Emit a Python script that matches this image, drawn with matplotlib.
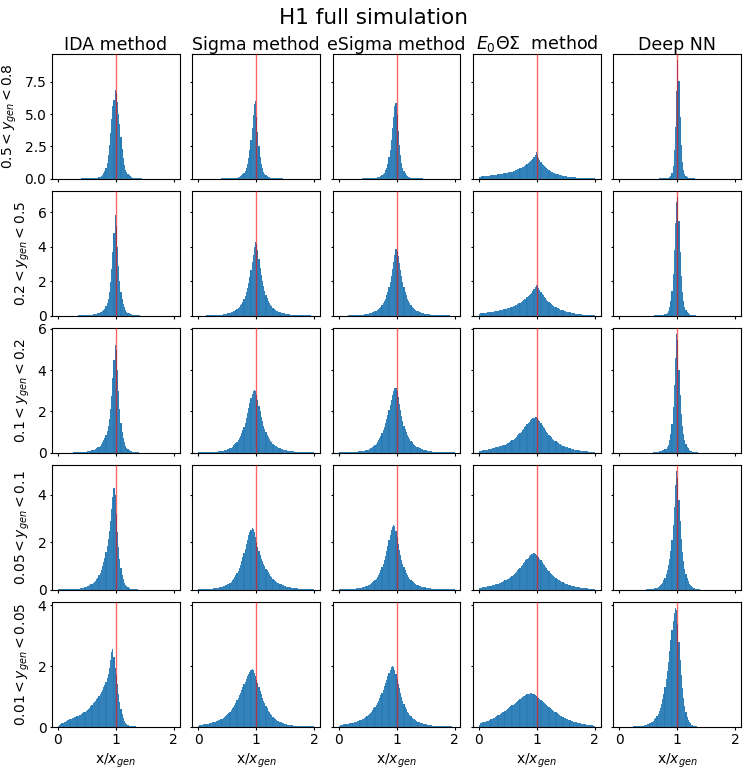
import matplotlib
matplotlib.use("Agg")
import matplotlib.pyplot as plt
import numpy as np

# ---------------- categories / labels ----------------
methods = ["IDA method", "Sigma method", "eSigma method",
           r"$E_0\Theta\Sigma$  method", "Deep NN"]
y_ranges = [r"$0.5 < y_{gen} < 0.8$", r"$0.2 < y_{gen} < 0.5$",
            r"$0.1 < y_{gen} < 0.2$", r"$0.05 < y_{gen} < 0.1$",
            r"$0.01 < y_{gen} < 0.05$"]
x_ticks = [0, 1, 2]
y_ticks = [[0, 2.5, 5, 7.5], [0, 2, 4, 6], [0, 2, 4, 6], [0, 2, 4], [0, 2, 4]]
bin_edges = np.linspace(0.0, 2.0, 101)   # 100 bins of width 0.02

# ---------------- histogram densities (per bin, 0 -> 2) ----------------
# row 1 : 0.5 < y < 0.8
ida_r1 = [0, 0, 0, 0, 0, 0, 0, 0, 0, 0,
          0, 0, 0, 0, 0, 0, 0, 0, 0, 0,
          .01, .01, .01, .01, .01, .01, .01, .01, .02, .02,
          .02, .03, .04, .05, .07, .1, .14, .2, .3, .42,
          .6, .8, 1.2, 1.8, 2.6, 3.5, 4.6, 5.6, 6.1, 6.9,
          6.6, 5.9, 5.0, 4.2, 3.2, 2.3, 1.6, 1.05, .7, .5,
          .35, .25, .17, .12, .08, .05, .04, .03, .02, .01,
          .01, .01, .01, 0, 0, 0, 0, 0, 0, 0,
          0, 0, 0, 0, 0, 0, 0, 0, 0, 0,
          0, 0, 0, 0, 0, 0, 0, 0, 0, 0]
sigma_r1 = [0, 0, 0, 0, 0, 0, 0, 0, 0, 0,
            0, 0, 0, 0, 0, 0, 0, 0, 0, 0,
            .01, .01, .01, .01, .01, .02, .02, .02, .03, .03,
            .04, .05, .06, .08, .11, .14, .19, .25, .33, .45,
            .6, .8, 1.1, 1.6, 2.2, 3.0, 3.9, 4.9, 5.8, 6.0,
            4.8, 3.6, 2.5, 1.7, 1.15, .8, .55, .38, .27, .19,
            .14, .1, .07, .05, .04, .03, .02, .02, .01, .01,
            .01, .01, .01, 0, 0, 0, 0, 0, 0, 0,
            0, 0, 0, 0, 0, 0, 0, 0, 0, 0,
            0, 0, 0, 0, 0, 0, 0, 0, 0, 0]
esigma_r1 = [0, 0, 0, 0, 0, 0, 0, 0, 0, 0,
             0, 0, 0, 0, 0, 0, 0, 0, 0, 0,
             .01, .01, .01, .01, .01, .02, .02, .03, .03, .03,
             .04, .05, .07, .09, .12, .15, .2, .27, .35, .47,
             .63, .85, 1.15, 1.65, 2.25, 3.0, 3.9, 4.8, 5.6, 5.85,
             4.9, 3.7, 2.6, 1.8, 1.2, .85, .6, .42, .3, .21,
             .15, .11, .08, .06, .04, .03, .02, .02, .01, .01,
             .01, .01, .01, 0, 0, 0, 0, 0, 0, 0,
             0, 0, 0, 0, 0, 0, 0, 0, 0, 0,
             0, 0, 0, 0, 0, 0, 0, 0, 0, 0]
e0_r1 = [.15, .16, .17, .18, .19, .2, .21, .22, .23, .24,
         .25, .26, .28, .29, .3, .31, .33, .34, .35, .37,
         .38, .4, .42, .44, .46, .48, .5, .52, .55, .58,
         .61, .64, .67, .71, .75, .79, .83, .88, .93, .99,
         1.05, 1.12, 1.19, 1.27, 1.36, 1.45, 1.55, 1.67, 1.82, 2.05,
         1.85, 1.62, 1.44, 1.29, 1.16, 1.05, .95, .87, .79, .72,
         .66, .6, .55, .5, .46, .42, .38, .35, .32, .3,
         .27, .25, .23, .21, .19, .18, .16, .15, .14, .13,
         .12, .11, .1, .09, .08, .08, .07, .06, .06, .05,
         .05, .05, .04, .04, .04, .03, .03, .03, .03, .02]
dnn_r1 = [0, 0, 0, 0, 0, 0, 0, 0, 0, 0,
          0, 0, 0, 0, 0, 0, 0, 0, 0, 0,
          0, 0, 0, 0, 0, 0, 0, 0, 0, 0,
          0, 0, 0, 0, .01, .01, .01, .01, .02, .02,
          .03, .04, .07, .12, .22, .45, 1.0, 2.2, 4.0, 6.8,
          9.2, 7.6, 4.8, 2.6, 1.3, .65, .33, .18, .1, .06,
          .04, .03, .02, .01, .01, 0, 0, 0, 0, 0,
          0, 0, 0, 0, 0, 0, 0, 0, 0, 0,
          0, 0, 0, 0, 0, 0, 0, 0, 0, 0,
          0, 0, 0, 0, 0, 0, 0, 0, 0, 0]

# row 2 : 0.2 < y < 0.5
ida_r2 = [0, 0, 0, 0, 0, .01, .01, .01, .01, .01,
          .01, .01, .01, .01, .01, .01, .01, .02, .02, .02,
          .02, .02, .02, .03, .03, .03, .04, .04, .05, .06,
          .08, .09, .1, .12, .14, .16, .19, .23, .27, .33,
          .4, .55, .75, 1.0, 1.4, 1.95, 2.7, 3.7, 4.8, 5.87,
          5.2, 4.0, 2.9, 2.0, 1.4, 1.0, .7, .48, .33, .24,
          .17, .13, .1, .08, .06, .05, .04, .03, .03, .02,
          .02, .01, .01, .01, .01, .01, 0, 0, 0, 0,
          0, 0, 0, 0, 0, 0, 0, 0, 0, 0,
          0, 0, 0, 0, 0, 0, 0, 0, 0, 0]
sigma_r2 = [.01, .01, .01, .01, .01, .01, .01, .02, .02, .02,
            .02, .02, .03, .03, .03, .04, .04, .05, .05, .06,
            .07, .08, .09, .1, .12, .13, .15, .17, .2, .23,
            .26, .3, .34, .39, .45, .52, .6, .7, .82, .97,
            1.15, 1.37, 1.62, 1.92, 2.25, 2.65, 3.1, 3.55, 4.0, 4.3,
            4.15, 3.8, 3.3, 2.8, 2.35, 2.0, 1.7, 1.45, 1.22, 1.04,
            .88, .75, .64, .55, .47, .4, .35, .3, .26, .23,
            .2, .18, .16, .14, .13, .11, .1, .09, .08, .07,
            .07, .06, .05, .05, .04, .04, .04, .03, .03, .03,
            .03, .02, .02, .02, .02, .02, .02, .01, .01, .01]
esigma_r2 = [.01, .01, .01, .01, .01, .01, .01, .01, .02, .02,
             .02, .02, .02, .03, .03, .03, .04, .04, .05, .05,
             .06, .07, .08, .09, .1, .12, .13, .15, .17, .2,
             .23, .26, .3, .35, .4, .46, .53, .62, .73, .86,
             1.0, 1.18, 1.4, 1.65, 1.95, 2.3, 2.7, 3.1, 3.55, 3.9,
             3.75, 3.45, 3.05, 2.65, 2.3, 1.95, 1.65, 1.4, 1.18, 1.0,
             .85, .72, .62, .53, .46, .4, .34, .3, .26, .23,
             .2, .18, .16, .14, .12, .11, .1, .09, .08, .07,
             .06, .05, .05, .04, .04, .04, .03, .03, .03, .03,
             .02, .02, .02, .02, .02, .02, .01, .01, .01, .01]
e0_r2 = [.12, .13, .14, .15, .16, .17, .18, .19, .2, .21,
         .22, .23, .24, .25, .27, .28, .29, .31, .32, .34,
         .35, .37, .39, .41, .43, .45, .47, .5, .52, .55,
         .58, .61, .64, .68, .72, .76, .8, .85, .9, .95,
         1.0, 1.06, 1.12, 1.19, 1.26, 1.34, 1.43, 1.53, 1.65, 1.8,
         1.72, 1.6, 1.48, 1.38, 1.28, 1.19, 1.1, 1.02, .94, .87,
         .8, .74, .68, .62, .57, .53, .49, .45, .42, .39,
         .36, .33, .31, .28, .26, .24, .22, .2, .19, .17,
         .16, .15, .13, .12, .11, .1, .09, .09, .08, .07,
         .07, .06, .06, .05, .05, .04, .04, .04, .03, .03]
dnn_r2 = [0, 0, 0, 0, 0, 0, 0, 0, 0, 0,
          0, 0, 0, 0, 0, 0, 0, 0, 0, 0,
          0, 0, 0, 0, 0, .01, .01, .01, .01, .01,
          .02, .02, .03, .03, .04, .04, .05, .06, .07, .08,
          .1, .15, .28, .5, .85, 1.45, 2.4, 3.8, 5.4, 6.6,
          6.9, 5.5, 3.7, 2.3, 1.4, .85, .52, .32, .2, .13,
          .09, .06, .04, .03, .02, .02, .01, .01, .01, 0,
          0, 0, 0, 0, 0, 0, 0, 0, 0, 0,
          0, 0, 0, 0, 0, 0, 0, 0, 0, 0,
          0, 0, 0, 0, 0, 0, 0, 0, 0, 0]

# row 3 : 0.1 < y < 0.2
ida_r3 = [.01, .01, .01, .01, .01, .01, .01, .01, .01, .01,
          .01, .01, .01, .02, .02, .02, .02, .02, .03, .03,
          .03, .04, .04, .05, .06, .07, .08, .09, .1, .12,
          .14, .16, .19, .22, .26, .3, .35, .42, .5, .6,
          .7, .85, 1.05, 1.3, 1.65, 2.1, 2.75, 3.6, 4.5, 5.2,
          4.95, 4.0, 3.0, 2.1, 1.45, 1.0, .7, .5, .35, .25,
          .18, .13, .1, .07, .05, .04, .03, .03, .02, .02,
          .01, .01, .01, .01, .01, .01, 0, 0, 0, 0,
          0, 0, 0, 0, 0, 0, 0, 0, 0, 0,
          0, 0, 0, 0, 0, 0, 0, 0, 0, 0]
sigma_r3 = [.02, .02, .02, .02, .02, .03, .03, .03, .03, .03,
            .04, .04, .04, .05, .05, .06, .06, .07, .08, .09,
            .1, .11, .12, .14, .15, .17, .19, .22, .25, .28,
            .36, .41, .47, .54, .62, .72, .83, .96, 1.1, 1.27,
            1.45, 1.68, 1.93, 2.18, 2.43, 2.65, 2.85, 2.99, 3.05, 2.98,
            2.8, 2.55, 2.28, 2.0, 1.75, 1.52, 1.32, 1.14, .99, .86,
            .75, .66, .58, .51, .45, .4, .35, .31, .28, .25,
            .22, .2, .18, .16, .15, .13, .12, .11, .1, .09,
            .08, .07, .07, .06, .06, .05, .05, .04, .04, .04,
            .03, .03, .03, .03, .03, .02, .02, .02, .02, .02]
esigma_r3 = [.02, .02, .02, .02, .02, .02, .03, .03, .03, .03,
             .03, .04, .04, .04, .05, .05, .06, .07, .07, .08,
             .09, .1, .11, .13, .14, .16, .18, .21, .25, .29,
             .34, .39, .45, .52, .6, .7, .81, .94, 1.08, 1.24,
             1.42, 1.62, 1.84, 2.07, 2.32, 2.56, 2.8, 2.98, 3.12, 3.15,
             2.98, 2.7, 2.38, 2.06, 1.78, 1.53, 1.32, 1.14, .99, .86,
             .75, .65, .57, .5, .44, .39, .34, .3, .27, .24,
             .21, .19, .17, .15, .14, .12, .11, .1, .09, .08,
             .07, .06, .06, .05, .05, .04, .04, .04, .03, .03,
             .03, .03, .03, .02, .02, .02, .02, .02, .02, .02]
e0_r3 = [.09, .1, .11, .12, .13, .14, .15, .16, .17, .18,
         .2, .21, .23, .24, .26, .28, .29, .31, .33, .35,
         .36, .38, .4, .43, .46, .49, .52, .56, .6, .64,
         .68, .73, .78, .84, .9, .96, 1.03, 1.1, 1.17, 1.24,
         1.31, 1.38, 1.45, 1.51, 1.57, 1.62, 1.66, 1.7, 1.72, 1.71,
         1.66, 1.6, 1.52, 1.44, 1.36, 1.27, 1.18, 1.1, 1.02, .95,
         .88, .81, .75, .69, .64, .59, .55, .51, .47, .44,
         .41, .38, .35, .32, .3, .28, .26, .24, .22, .2,
         .19, .17, .16, .15, .14, .13, .12, .11, .1, .09,
         .08, .08, .07, .07, .06, .06, .05, .05, .05, .04]
dnn_r3 = [0, 0, 0, 0, 0, 0, 0, 0, 0, 0,
          0, 0, 0, 0, 0, 0, 0, 0, 0, 0,
          .01, .01, .01, .01, .01, .01, .01, .01, .01, .02,
          .03, .04, .05, .06, .07, .08, .1, .12, .14, .17,
          .2, .28, .4, .6, .9, 1.4, 2.2, 3.3, 4.6, 5.74,
          5.45, 4.0, 2.8, 1.9, 1.3, .9, .62, .43, .3, .21,
          .15, .11, .08, .06, .04, .03, .02, .02, .01, .01,
          0, 0, 0, 0, 0, 0, 0, 0, 0, 0,
          0, 0, 0, 0, 0, 0, 0, 0, 0, 0,
          0, 0, 0, 0, 0, 0, 0, 0, 0, 0]

# row 4 : 0.05 < y < 0.1
ida_r4 = [.02, .02, .02, .02, .02, .03, .03, .03, .03, .03,
          .04, .04, .04, .04, .05, .05, .05, .06, .06, .07,
          .08, .09, .1, .11, .13, .15, .17, .2, .23, .26,
          .3, .34, .39, .45, .52, .61, .72, .85, 1.0, 1.17,
          1.36, 1.58, 1.84, 2.13, 2.5, 2.92, 3.4, 3.9, 4.28, 4.0,
          3.2, 2.45, 1.8, 1.3, .92, .64, .45, .31, .22, .15,
          .11, .08, .06, .05, .04, .03, .02, .02, .02, .01,
          .01, .01, .01, .01, .01, 0, 0, 0, 0, 0,
          0, 0, 0, 0, 0, 0, 0, 0, 0, 0,
          0, 0, 0, 0, 0, 0, 0, 0, 0, 0]
sigma_r4 = [.03, .03, .03, .03, .04, .04, .04, .04, .05, .05,
            .05, .06, .06, .07, .07, .08, .09, .1, .11, .12,
            .13, .15, .17, .19, .21, .24, .27, .31, .35, .4,
            .46, .53, .61, .7, .8, .92, 1.05, 1.2, 1.37, 1.55,
            1.74, 1.93, 2.12, 2.3, 2.44, 2.54, 2.6, 2.56, 2.42, 2.22,
            2.0, 1.8, 1.62, 1.46, 1.32, 1.2, 1.09, .99, .9, .82,
            .74, .67, .6, .54, .48, .43, .39, .35, .31, .28,
            .25, .23, .21, .19, .17, .15, .14, .13, .12, .11,
            .1, .09, .08, .08, .07, .07, .06, .06, .05, .05,
            .05, .04, .04, .04, .04, .03, .03, .03, .03, .03]
esigma_r4 = [.02, .02, .03, .03, .03, .03, .03, .04, .04, .04,
             .04, .05, .05, .06, .06, .07, .07, .08, .09, .1,
             .11, .12, .14, .15, .17, .19, .22, .25, .28, .32,
             .36, .41, .47, .54, .62, .71, .82, .95, 1.1, 1.27,
             1.45, 1.65, 1.87, 2.1, 2.32, 2.52, 2.66, 2.75, 2.7, 2.5,
             2.22, 1.95, 1.7, 1.48, 1.28, 1.1, .95, .82, .71, .62,
             .54, .47, .41, .36, .32, .28, .25, .22, .2, .18,
             .16, .14, .13, .12, .11, .1, .09, .08, .07, .07,
             .06, .06, .05, .05, .05, .04, .04, .04, .03, .03,
             .03, .03, .03, .03, .02, .02, .02, .02, .02, .02]
e0_r4 = [.08, .09, .1, .11, .12, .13, .14, .15, .16, .17,
         .18, .19, .21, .22, .24, .25, .27, .29, .31, .33,
         .35, .37, .4, .42, .45, .48, .51, .55, .59, .63,
         .67, .72, .77, .82, .88, .94, 1.0, 1.06, 1.12, 1.18,
         1.24, 1.3, 1.36, 1.41, 1.46, 1.5, 1.53, 1.55, 1.53, 1.49,
         1.44, 1.38, 1.32, 1.25, 1.18, 1.11, 1.04, .97, .91, .85,
         .79, .73, .68, .63, .58, .54, .5, .46, .43, .4,
         .37, .34, .32, .29, .27, .25, .23, .21, .2, .18,
         .17, .16, .15, .14, .13, .12, .11, .1, .09, .09,
         .08, .08, .07, .07, .06, .06, .06, .05, .05, .05]
dnn_r4 = [0, 0, 0, 0, 0, 0, 0, 0, 0, 0,
          0, 0, 0, 0, 0, .01, .01, .01, .01, .01,
          .01, .01, .01, .02, .02, .02, .03, .04, .05, .06,
          .07, .08, .1, .12, .15, .19, .24, .31, .4, .52,
          .66, .83, 1.04, 1.3, 1.65, 2.1, 2.75, 3.5, 4.4, 5.0,
          4.7, 3.8, 2.9, 2.15, 1.6, 1.2, .9, .67, .5, .37,
          .27, .2, .15, .11, .08, .06, .04, .03, .02, .02,
          .01, .01, .01, 0, 0, 0, 0, 0, 0, 0,
          0, 0, 0, 0, 0, 0, 0, 0, 0, 0,
          0, 0, 0, 0, 0, 0, 0, 0, 0, 0]

# row 5 : 0.01 < y < 0.05
ida_r5 = [.05, .08, .1, .12, .14, .16, .18, .2, .22, .24,
          .26, .28, .3, .31, .33, .34, .36, .37, .39, .41,
          .43, .45, .48, .5, .53, .56, .6, .64, .68, .73,
          .78, .82, .87, .92, .97, 1.03, 1.09, 1.15, 1.22, 1.3,
          1.39, 1.48, 1.6, 1.75, 1.95, 2.2, 2.45, 2.58, 2.3, 1.95,
          1.7, 1.4, 1.1, .82, .6, .42, .29, .2, .14, .1,
          .07, .05, .04, .03, .02, .02, .02, .01, .01, .01,
          .01, .01, .01, .01, .01, 0, 0, 0, 0, 0,
          0, 0, 0, 0, 0, 0, 0, 0, 0, 0,
          0, 0, 0, 0, 0, 0, 0, 0, 0, 0]
sigma_r5 = [.05, .07, .08, .08, .09, .09, .1, .1, .11, .12,
            .13, .14, .15, .16, .17, .19, .2, .22, .24, .26,
            .28, .3, .33, .36, .39, .43, .47, .51, .56, .61,
            .67, .73, .8, .88, .96, 1.04, 1.13, 1.22, 1.31, 1.4,
            1.49, 1.58, 1.67, 1.75, 1.82, 1.88, 1.9, 1.86, 1.78, 1.68,
            1.56, 1.44, 1.32, 1.2, 1.08, .97, .87, .78, .69, .61,
            .54, .48, .43, .38, .34, .3, .27, .24, .21, .19,
            .17, .15, .14, .12, .11, .1, .09, .08, .08, .07,
            .06, .06, .05, .05, .05, .04, .04, .04, .03, .03,
            .03, .03, .03, .02, .02, .02, .02, .02, .02, .02]
esigma_r5 = [.05, .07, .08, .08, .09, .09, .1, .1, .11, .12,
             .12, .13, .14, .15, .16, .18, .19, .21, .22, .24,
             .26, .28, .31, .33, .36, .39, .43, .47, .51, .56,
             .61, .67, .73, .8, .87, .95, 1.04, 1.13, 1.23, 1.34,
             1.45, 1.56, 1.68, 1.79, 1.89, 1.96, 2.0, 1.97, 1.88, 1.74,
             1.58, 1.42, 1.27, 1.12, .99, .87, .76, .66, .58, .51,
             .45, .4, .35, .31, .28, .25, .22, .2, .18, .16,
             .14, .13, .12, .11, .1, .09, .08, .07, .07, .06,
             .06, .05, .05, .04, .04, .04, .03, .03, .03, .03,
             .03, .02, .02, .02, .02, .02, .02, .02, .01, .01]
e0_r5 = [.08, .12, .14, .15, .16, .17, .19, .2, .21, .23,
         .25, .27, .29, .31, .33, .36, .38, .4, .43, .45,
         .48, .5, .53, .56, .59, .62, .65, .68, .71, .74,
         .77, .8, .83, .86, .89, .92, .95, .98, 1.01, 1.03,
         1.05, 1.07, 1.09, 1.1, 1.11, 1.11, 1.1, 1.08, 1.05, 1.02,
         .99, .96, .93, .89, .86, .83, .79, .76, .73, .7,
         .66, .63, .6, .57, .54, .51, .48, .45, .42, .39,
         .37, .35, .33, .31, .29, .27, .25, .24, .22, .21,
         .2, .18, .17, .16, .15, .14, .13, .12, .11, .1,
         .1, .09, .08, .08, .07, .07, .06, .06, .05, .05]
dnn_r5 = [0, 0, 0, 0, 0, 0, .01, .01, .01, .01,
          .01, .01, .02, .02, .02, .02, .03, .03, .04, .04,
          .05, .06, .07, .08, .09, .11, .13, .15, .18, .21,
          .25, .3, .36, .43, .52, .63, .76, .92, 1.1, 1.32,
          1.57, 1.85, 2.15, 2.5, 2.85, 3.2, 3.5, 3.75, 3.9, 3.85,
          3.4, 2.8, 2.2, 1.7, 1.28, .94, .68, .48, .34, .24,
          .17, .12, .08, .06, .04, .03, .02, .01, .01, .01,
          0, 0, 0, 0, 0, 0, 0, 0, 0, 0,
          0, 0, 0, 0, 0, 0, 0, 0, 0, 0,
          0, 0, 0, 0, 0, 0, 0, 0, 0, 0]

grid = [
    [ida_r1, sigma_r1, esigma_r1, e0_r1, dnn_r1],
    [ida_r2, sigma_r2, esigma_r2, e0_r2, dnn_r2],
    [ida_r3, sigma_r3, esigma_r3, e0_r3, dnn_r3],
    [ida_r4, sigma_r4, esigma_r4, e0_r4, dnn_r4],
    [ida_r5, sigma_r5, esigma_r5, e0_r5, dnn_r5],
]

# ---------------- drawing ----------------
fig, axes = plt.subplots(5, 5, figsize=(7.47, 7.70), dpi=100,
                         sharex=True, sharey="row")
fig.subplots_adjust(left=0.0696, right=0.992, top=0.9299, bottom=0.0558,
                    wspace=0.1, hspace=0.1)

centers = 0.5 * (bin_edges[:-1] + bin_edges[1:])
for r in range(5):
    for c in range(5):
        ax = axes[r, c]
        vals = np.asarray(grid[r][c], dtype=float)
        ax.hist(centers, bins=bin_edges, weights=vals, color="#1f77b4",
                edgecolor=(1, 1, 1, 0.15), linewidth=0.3)
        ax.axvline(1.0, color="red", lw=1.0, alpha=0.6, zorder=3)
        ax.set_xticks(x_ticks)
        ax.set_yticks(y_ticks[r])
        ax.tick_params(labelsize=10, length=1.8, pad=2.2)
        if r == 0:
            ax.set_title(methods[c], fontsize=12.5, pad=3)
        if c == 0:
            ax.set_ylabel(y_ranges[r], fontsize=10)
        if r == 4:
            ax.set_xlabel(r"x/$x_{gen}$", fontsize=10)

fig.suptitle("H1 full simulation", fontsize=15.5, y=0.99)
fig.savefig("out.png", dpi=100)
